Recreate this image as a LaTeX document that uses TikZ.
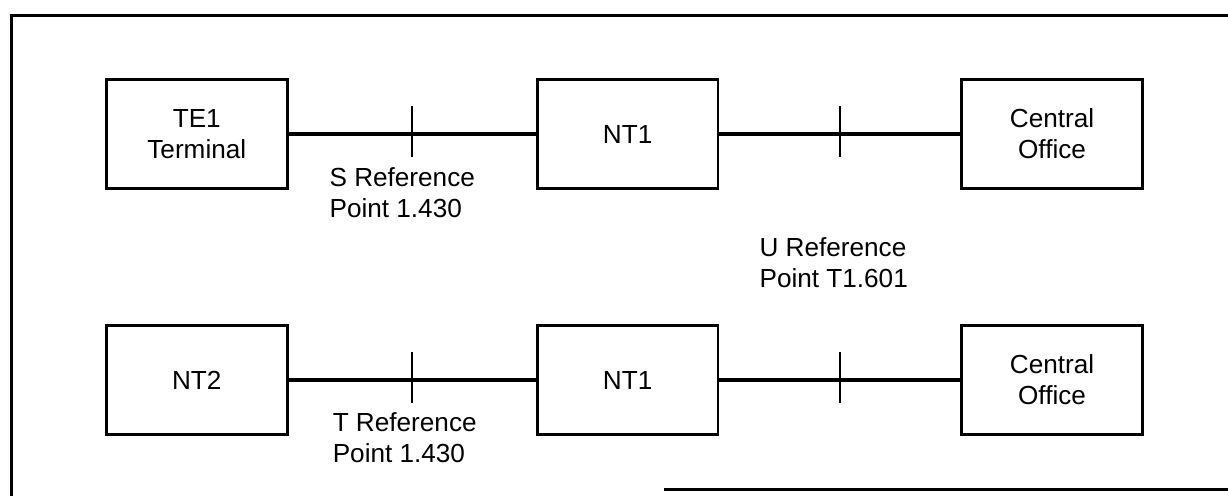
\documentclass[tikz,border=0pt]{standalone}
\usepackage{fontspec}
\setmainfont{Liberation Sans}
\usetikzlibrary{positioning}

\begin{document}
\begin{tikzpicture}[font=\fontsize{9.3}{11}\selectfont]
  \tikzset{blk/.style={rectangle,draw,line width=1pt,minimum width=2.26cm,minimum height=1.36cm,inner sep=0pt,align=center},
    wire/.style={line width=1.2pt},
    refmark/.style={line width=0.8pt},
    lbl/.style={anchor=north west,inner sep=0pt,align=left}}
  \useasboundingbox (0,0) rectangle (15.35,-6.2);
  % frame (open on the right, as scanned)
  \draw[line width=1.2pt] (15.35,-0.19) -- (0.14,-0.19) -- (0.14,-6.2);
  \draw[line width=1.2pt] (8.3,-6.12) -- (15.35,-6.12);
  % upper chain
  \node[blk] (te1) at (2.46,-1.675) {TE1\\Terminal};
  \node[blk,right=3.09cm of te1] (nt1a) {NT1};
  \node[blk,right=3.01cm of nt1a] (coa) {Central\\Office};
  % lower chain
  \node[blk,below=1.68cm of te1] (nt2) {NT2};
  \node[blk,right=3.09cm of nt2] (nt1b) {NT1};
  \node[blk,right=3.01cm of nt1b] (cob) {Central\\Office};
  % connectors with reference points
  \draw[wire] (te1) -- node[coordinate] (sref) {} (nt1a);
  \draw[wire] (nt1a) -- node[coordinate] (uref) {} (coa);
  \draw[wire] (nt2) -- node[coordinate] (tref) {} (nt1b);
  \draw[wire] (nt1b) -- node[coordinate] (uref2) {} (cob);
  \foreach \p in {sref,uref,tref,uref2}
    \draw[refmark] ([yshift=3.5mm]\p) -- ([yshift=-2.9mm]\p);
  \node[lbl] (slbl) at ([xshift=-10.4mm,yshift=-4.1mm]sref) {S Reference\\Point 1.430};
  \node[lbl] (ulbl) at ([xshift=-10.1mm,yshift=-12.9mm]uref) {U Reference\\Point T1.601};
  \node[lbl] (tlbl) at ([xshift=-10.0mm,yshift=-4.0mm]tref) {T Reference\\Point 1.430};
\end{tikzpicture}
\end{document}
